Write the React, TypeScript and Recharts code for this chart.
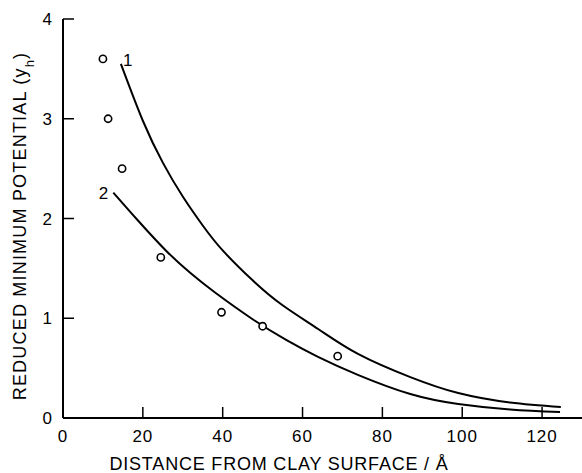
import { ComposedChart, Line, Scatter, XAxis, YAxis, Label, LabelList } from "recharts";

// axis ticks
const xTicks = [0, 20, 40, 60, 80, 100, 120];
const yTicks = [0, 1, 2, 3, 4];

// curve 1 (upper)
const curve1X = [14.5, 20, 25, 30, 35, 40, 47.5, 55, 64, 74, 87, 99, 112, 124.7];
const curve1Y = [3.55, 2.98, 2.56, 2.22, 1.93, 1.68, 1.38, 1.13, 0.89, 0.64, 0.41, 0.25, 0.155, 0.11];

// curve 2 (lower)
const curve2X = [12.6, 19, 26, 32, 38, 47.5, 56, 64, 74, 87, 99, 112, 124.5];
const curve2Y = [2.26, 1.97, 1.67, 1.45, 1.26, 0.99, 0.78, 0.61, 0.43, 0.24, 0.14, 0.085, 0.06];

// measured points
const pointX = [10, 11.3, 14.8, 24.5, 39.7, 50, 68.8];
const pointY = [3.6, 3.0, 2.5, 1.61, 1.06, 0.92, 0.62];

const curve1 = curve1X.map((x, i) => ({ x, y: curve1Y[i] }));
const curve2 = curve2X.map((x, i) => ({ x, y: curve2Y[i] }));
const points = pointX.map((x, i) => ({ x, y: pointY[i] }));

const FONT = "'Liberation Sans', Arial, sans-serif";
const TICK_LEN = 11;
const X_GAP = 13;
const Y_GAP = 11;

// tick label plus an inward tick mark
function XTick(props: any) {
  const { x, y, payload } = props;
  const axisY = y - X_GAP;
  return (
    <g>
      {payload.value !== 0 && (
        <line x1={x} x2={x} y1={axisY} y2={axisY - TICK_LEN} stroke="#000" strokeWidth={1.5} />
      )}
      <text x={x} y={y + 11} textAnchor="middle" fontSize={17} fontFamily={FONT} letterSpacing={1} fill="#000">
        {payload.value}
      </text>
    </g>
  );
}

function YTick(props: any) {
  const { x, y, payload } = props;
  const axisX = x + Y_GAP;
  return (
    <g>
      {payload.value !== 0 && (
        <line x1={axisX} x2={axisX + TICK_LEN} y1={y} y2={y} stroke="#000" strokeWidth={1.5} />
      )}
      <text x={x} y={y + 6} textAnchor="end" fontSize={17} fontFamily={FONT} fill="#000">
        {payload.value}
      </text>
    </g>
  );
}

function Ring(props: any) {
  const { cx, cy } = props;
  return <circle cx={cx} cy={cy} r={3.6} fill="#fff" stroke="#000" strokeWidth={1.6} />;
}

function curveTag(text: string, dx: number, dy: number, anchor: string) {
  return (props: any) => {
    if (props.index !== 0) return null;
    return (
      <text
        x={props.x + dx}
        y={props.y + dy}
        textAnchor={anchor}
        fontSize={17}
        fontFamily={FONT}
        fill="#000"
      >
        {text}
      </text>
    );
  };
}

export default function App() {
  return (
    <div style={{ position: "absolute", left: 0, top: 0, width: 582, height: 473, background: "#fff" }}>
      <ComposedChart
        width={582}
        height={473}
        margin={{ top: 19, right: 0, bottom: 0, left: 0 }}
      >
        <XAxis
          type="number"
          dataKey="x"
          domain={[0, 130]}
          ticks={xTicks}
          allowDataOverflow
          height={55}
          tickSize={0}
          tickMargin={X_GAP}
          tick={<XTick />}
          axisLine={{ stroke: "#000", strokeWidth: 2 }}
          tickLine={false}
        >
          <Label
            content={() => (
              <text
                x={279}
                y={470}
                textAnchor="middle"
                fontSize={18}
                fontFamily={FONT}
                letterSpacing={0.8}
                fill="#000"
              >
                DISTANCE FROM CLAY SURFACE / Å
              </text>
            )}
          />
        </XAxis>
        <YAxis
          type="number"
          dataKey="y"
          domain={[0, 4]}
          ticks={yTicks}
          allowDataOverflow
          width={63}
          tickSize={0}
          tickMargin={Y_GAP}
          tick={<YTick />}
          axisLine={{ stroke: "#000", strokeWidth: 2 }}
          tickLine={false}
        >
          <Label
            content={() => (
              <text
                x={26}
                y={226}
                transform="rotate(-90 26 226)"
                textAnchor="middle"
                fontSize={18}
                fontFamily={FONT}
                letterSpacing={1.2}
                fill="#000"
              >
                REDUCED MINIMUM POTENTIAL (<tspan>y</tspan>
                <tspan baselineShift="sub" fontSize={13}>h</tspan>)
              </text>
            )}
          />
        </YAxis>
        <Line
          data={curve1}
          dataKey="y"
          type="natural"
          stroke="#000"
          strokeWidth={2}
          dot={false}
          activeDot={false}
          isAnimationActive={false}
        >
          <LabelList dataKey="y" content={curveTag("1", 2, 2, "start")} />
        </Line>
        <Line
          data={curve2}
          dataKey="y"
          type="natural"
          stroke="#000"
          strokeWidth={2}
          dot={false}
          activeDot={false}
          isAnimationActive={false}
        >
          <LabelList dataKey="y" content={curveTag("2", -5, 6, "end")} />
        </Line>
        <Scatter data={points} dataKey="y" shape={<Ring />} isAnimationActive={false} />
      </ComposedChart>
    </div>
  );
}
